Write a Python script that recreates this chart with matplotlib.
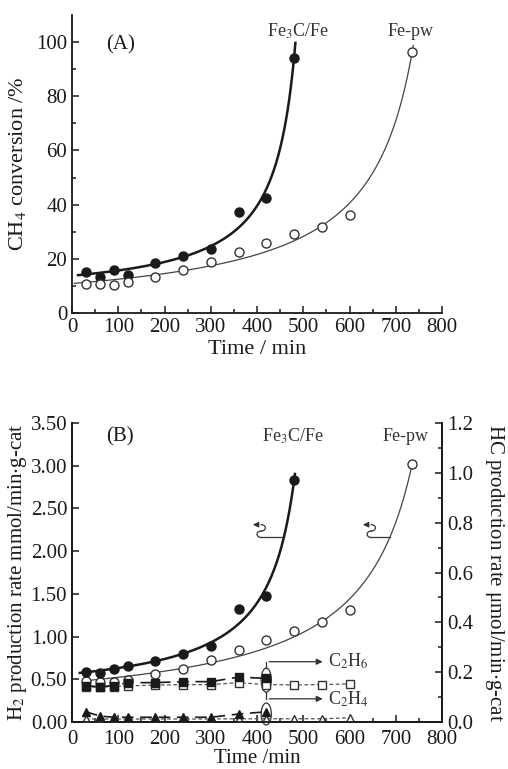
import matplotlib
matplotlib.use("Agg")
import matplotlib.pyplot as plt
import numpy as np
from matplotlib.patches import Ellipse

plt.rcParams['font.family'] = ['Liberation Serif', 'DejaVu Serif']
plt.rcParams['mathtext.fontset'] = 'stix'
plt.rcParams['font.size'] = 15

# ---- panel A : CH4 conversion
tA_fe3c = [30, 60, 90, 120, 180, 240, 300, 360, 420, 480]
convA_fe3c = [15.2, 13.2, 15.9, 14.1, 18.4, 21.1, 23.8, 37.1, 42.3, 94.3]
tA_fepw = [30, 60, 90, 120, 180, 240, 300, 360, 420, 480, 540, 600, 735]
convA_fepw = [10.6, 10.6, 10.3, 11.4, 13.4, 15.7, 19.0, 22.7, 25.8, 29.1, 31.9, 36.2, 96.2]

# ---- panel B : H2 production (left axis)
tB_fe3c = [30, 60, 90, 120, 180, 240, 300, 360, 420, 480]
h2_fe3c = [0.58, 0.57, 0.62, 0.65, 0.71, 0.80, 0.89, 1.32, 1.47, 2.83]
tB_fepw = [30, 60, 90, 120, 180, 240, 300, 360, 420, 480, 540, 600, 735]
h2_fepw = [0.48, 0.47, 0.47, 0.49, 0.56, 0.62, 0.73, 0.84, 0.96, 1.07, 1.17, 1.31, 3.02]

# ---- panel B : HC production (right axis)
tHC_fe3c = [30, 60, 90, 120, 180, 240, 300, 360, 420]
c2h6_fe3c = [0.145, 0.142, 0.146, 0.158, 0.158, 0.162, 0.162, 0.180, 0.175]
c2h4_fe3c = [0.041, 0.024, 0.019, 0.019, 0.019, 0.019, 0.019, 0.032, 0.041]
tHC_fepw = [30, 60, 90, 120, 180, 240, 300, 360, 420, 480, 540, 600]
c2h6_fepw = [0.140, 0.140, 0.142, 0.145, 0.148, 0.150, 0.150, 0.158, 0.150, 0.149, 0.150, 0.153]
c2h4_fepw = [0.012, 0.012, 0.012, 0.012, 0.012, 0.012, 0.012, 0.013, 0.013, 0.013, 0.013, 0.017]


def hyper_fit(t, y, t0, t_end):
    # least-squares fit of y = a + b/(T - t), scanning T
    t = np.asarray(t, float)
    y = np.asarray(y, float)
    best = None
    for T in np.arange(t.max() + 5, t.max() + 1500, 1.0):
        A = np.column_stack([np.ones_like(t), 1.0 / (T - t)])
        coef = np.linalg.lstsq(A, y, rcond=None)[0]
        sse = np.sum((A @ coef - y) ** 2)
        if best is None or sse < best[0]:
            best = (sse, T, coef)
    _, T, (a, b) = best
    tt = np.linspace(t0, t_end, 400)
    return tt, a + b / (T - tt)


ink = '#1a1a1a'
grey = '#333333'
W, H = 508, 769
fig = plt.figure(figsize=(W / 100, H / 100), dpi=100)
axA = fig.add_axes([72 / W, 1 - 313 / H, 370 / W, 298 / H])
axB = fig.add_axes([72 / W, 1 - 722 / H, 370 / W, 299 / H])


def style(ax, right=False):
    ax.spines['top'].set_visible(False)
    if not right:
        ax.spines['right'].set_visible(False)
    for s in ax.spines.values():
        s.set_linewidth(1.3)
        s.set_color(ink)
    ax.tick_params(which='both', direction='in', colors=ink, width=1.1)
    ax.tick_params(which='major', length=5, labelsize=15)
    ax.tick_params(which='minor', length=3)


# ================= panel A
style(axA)
tt, yy = hyper_fit(tA_fe3c, convA_fe3c, 13, 483)
axA.plot(tt, yy, color=ink, lw=1.8)
tt, yy = hyper_fit(tA_fepw, convA_fepw, 5, 738)
axA.plot(tt, yy, color='#444444', lw=0.9)
axA.plot(tA_fe3c, convA_fe3c, 'o', color=ink, ms=6.5, ls='none')
axA.plot(tA_fepw, convA_fepw, 'o', mfc='white', mec=grey, mew=1.0, ms=6.5, ls='none')

axA.set_xlim(0, 800)
axA.set_ylim(0, 110)
axA.set_xticks(np.arange(0, 801, 100))
axA.set_xticks(np.arange(50, 800, 100), minor=True)
axA.set_yticks(np.arange(0, 101, 20))
axA.set_yticks(np.arange(10, 110, 20), minor=True)
axA.set_xlabel('Time / min', fontsize=16, color=ink, labelpad=2)
axA.set_ylabel('CH$_4$ conversion /%', fontsize=16, color=ink, labelpad=6)
axA.text(104, 99, '(A)', fontsize=15, color=ink, ha='center', va='center')
axA.text(489, 104, 'Fe$_3$C/Fe', fontsize=13, color=grey, ha='center', va='center', clip_on=False)
axA.text(732, 104, 'Fe-pw', fontsize=13, color=grey, ha='center', va='center', clip_on=False)

# ================= panel B
style(axB, right=True)
axB.tick_params(axis='x', which='major', pad=6)
axR = axB.twinx()
axR.spines['top'].set_visible(False)
for s in axR.spines.values():
    s.set_linewidth(1.3)
    s.set_color(ink)
axR.tick_params(which='both', direction='in', colors=ink, width=1.1)
axR.tick_params(which='major', length=5, labelsize=15)
axR.tick_params(which='minor', length=3)

tt_a, yy_a = hyper_fit(tB_fe3c, h2_fe3c, 17, 482)
axB.plot(tt_a, yy_a, color=ink, lw=1.8, zorder=3)
tt_b, yy_b = hyper_fit(tB_fepw, h2_fepw, 25, 737)
axB.plot(tt_b, yy_b, color='#444444', lw=0.9, zorder=3)
axB.plot(tB_fepw, h2_fepw, 'o', mfc='white', mec=grey, mew=1.0, ms=6.5, ls='none', zorder=4)
axB.plot(tB_fe3c, h2_fe3c, 'o', color=ink, ms=6.5, ls='none', zorder=4)

axR.plot(tHC_fepw, c2h6_fepw, ls=(0, (3, 2)), color='#555555', lw=0.9, marker='s',
         mfc='white', mec=grey, ms=5.5)
axR.plot(tHC_fepw, c2h4_fepw, ls=(0, (3, 2)), color='#555555', lw=0.9, marker='^',
         mfc='white', mec=grey, ms=5.5)
axR.plot(tHC_fe3c, c2h6_fe3c, ls=(0, (7, 4)), color=ink, lw=1.2, marker='s', ms=5.5)
axR.plot(tHC_fe3c, c2h4_fe3c, ls=(0, (7, 4)), color=ink, lw=1.2, marker='^', ms=5.5)

axB.set_xlim(0, 800)
axB.set_ylim(0, 3.5)
axR.set_ylim(0, 1.2)
axB.set_xticks(np.arange(0, 801, 100))
axB.set_xticks(np.arange(50, 800, 100), minor=True)
axB.set_yticks(np.arange(0, 3.51, 0.5))
axB.set_yticklabels(['%.2f' % v for v in np.arange(0, 3.51, 0.5)])
axR.set_yticks(np.arange(0, 1.21, 0.2))
axR.set_yticklabels(['%.1f' % v for v in np.arange(0, 1.21, 0.2)])
axR.set_yticks(np.arange(0.1, 1.2, 0.2), minor=True)
axB.set_xlabel('Time /min', fontsize=15, color=ink, labelpad=0)
axB.set_ylabel('H$_2$ production rate mmol/min$\\cdot$g-cat', fontsize=15, color=ink, labelpad=1)
axR.set_ylabel('HC production rate μmol/min$\\cdot$g-cat', fontsize=15, color=ink,
               rotation=-90, labelpad=24)
axB.text(104, 3.34, '(B)', fontsize=15, color=ink, ha='center', va='center')
axB.text(478, 3.34, 'Fe$_3$C/Fe', fontsize=13, color=grey, ha='center', va='center')
axB.text(722, 3.34, 'Fe-pw', fontsize=13, color=grey, ha='center', va='center')

# ovals around the 420 min HC points
axR.add_patch(Ellipse((420, 0.168), 22, 0.097, fill=False, ec=grey, lw=0.9))
axR.add_patch(Ellipse((420, 0.032), 22, 0.088, fill=False, ec=grey, lw=0.9, clip_on=False))
# callout arrows
axR.plot([420, 420], [0.217, 0.242], color=grey, lw=0.9)
axR.annotate('', xy=(548, 0.242), xytext=(420, 0.242),
             arrowprops=dict(arrowstyle='-|>', color=grey, lw=0.9, mutation_scale=9))
axR.text(553, 0.242, 'C$_2$H$_6$', fontsize=13, color=grey, va='center')
axR.plot([420, 420], [0.119, 0.093], color=grey, lw=0.9)
axR.annotate('', xy=(548, 0.093), xytext=(420, 0.093),
             arrowprops=dict(arrowstyle='-|>', color=grey, lw=0.9, mutation_scale=9))
axR.text(553, 0.093, 'C$_2$H$_4$', fontsize=13, color=grey, va='center')


# left-axis pointers: small S-loop with an arrow pointing left
def pointer(ax, x_tip, tt, yy):
    y0, y1, y2 = 2.31, 2.235, 2.16
    xs = x_tip + 24
    th = np.linspace(np.pi / 2, -np.pi / 2, 25)
    ax.plot(xs + 9 * np.cos(th), (y0 + y1) / 2 + (y0 - y1) / 2 * np.sin(th), color=grey, lw=0.9)
    ax.plot(xs - 9 * np.cos(th), (y1 + y2) / 2 + (y1 - y2) / 2 * np.sin(th), color=grey, lw=0.9)
    x_end = np.interp(y2, yy, tt)
    ax.plot([xs, x_end], [y2, y2], color=grey, lw=0.9)
    ax.annotate('', xy=(x_tip, y0), xytext=(xs, y0),
                arrowprops=dict(arrowstyle='-|>', color=grey, lw=0.9, mutation_scale=8))


pointer(axB, 385, tt_a, yy_a)
pointer(axB, 623, tt_b, yy_b)

fig.savefig('out.png', dpi=100)
